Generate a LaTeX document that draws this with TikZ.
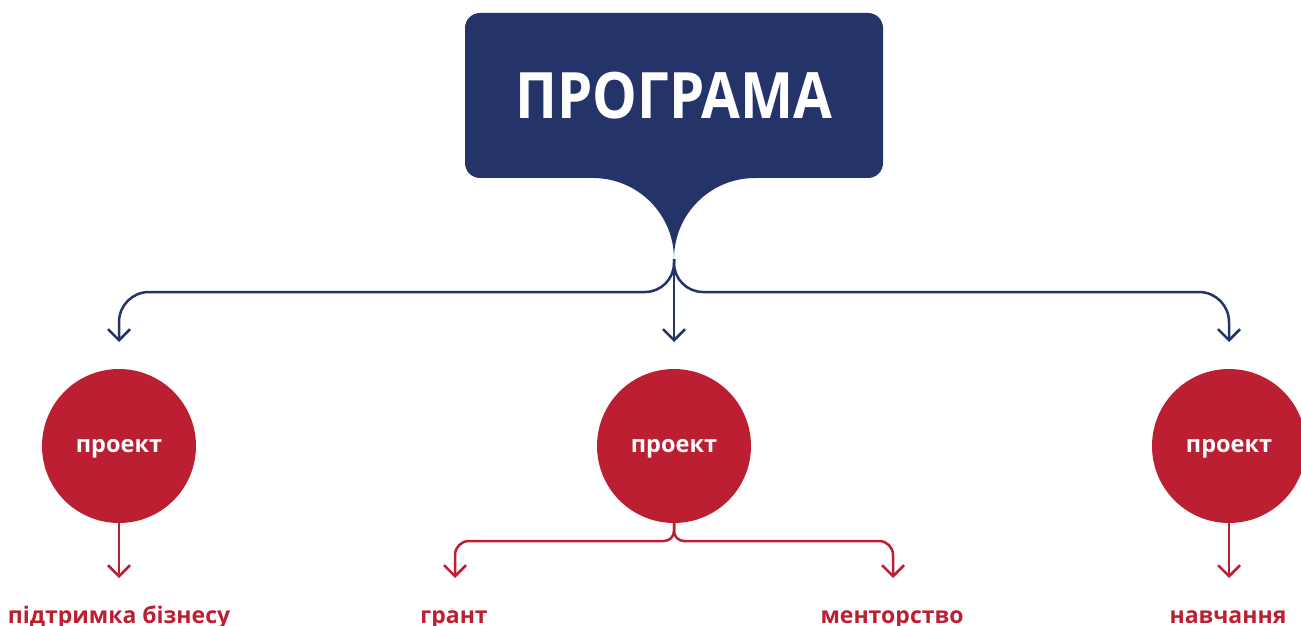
\documentclass[tikz,border=0pt]{standalone}
\usepackage{fontspec}
\setmainfont{Open Sans}
\newfontfamily\titlefont{Open Sans}[FakeStretch=0.88]
\usetikzlibrary{arrows.meta}
\definecolor{navy}{RGB}{36,51,104}
\definecolor{crim}{RGB}{188,31,50}
\begin{document}
\begin{tikzpicture}[x=1pt,y=1pt,
  navline/.style={draw=navy,line width=2.5pt},
  redline/.style={draw=crim,line width=2.5pt},
  tip/.style={-{Straight Barb[length=11pt,width=22pt]}},
  proj/.style={circle,fill=crim,minimum size=154pt,inner sep=0pt,text=white,text height=12.8pt,text depth=0pt,font=\bfseries\fontsize{23.5}{26}\selectfont},
  lab/.style={anchor=base,text=crim,inner sep=0pt,font=\bfseries\fontsize{23}{26}\selectfont}]
\useasboundingbox (0,0) rectangle (1301,625);
% top box with tail
\node (prog) [fill=navy,rounded corners=15pt,minimum width=418pt,minimum height=165pt,inner sep=0pt,
  text=white,font=\titlefont\bfseries\fontsize{64}{70}\selectfont] at (674,529.5) {ПРОГРАМА};
\fill[navy] (590,450) -- (593,447) arc (90:0:81) arc (180:90:81) -- (758,450) -- cycle;
\coordinate (tail) at (674,366);
% circles
\node (c1) [proj] at (119,179) {проект};
\node (c2) [proj] at (674,179) {проект};
\node (c3) [proj] at (1229,179) {проект};
% navy connectors
\coordinate (n1) at (119,283);
\coordinate (n2) at (674,283);
\coordinate (n3) at (1229,283);
\draw[navline,tip] (tail) -- (n2);
\draw[navline,tip] (tail) -- (674,362) arc (0:-90:29) -- (149,333) arc (90:180:30) -- (n1);
\draw[navline,tip] (tail) -- (674,362) arc (180:270:29) -- (1199,333) arc (90:0:30) -- (n3);
% labels
\node (t1) [lab] at (119,2) {підтримка бізнесу};
\node (t2) [lab] at (454,2) {грант};
\node (t3) [lab] at (892,2) {менторство};
\node (t4) [lab] at (1228,2) {навчання};
% red connectors
\coordinate (r1) at (119,47);
\coordinate (r2) at (455,47);
\coordinate (r3) at (893,47);
\coordinate (r4) at (1229,47);
\draw[redline,tip] (c1.south) -- (r1);
\draw[redline,tip] (c3.south) -- (r4);
\draw[redline,tip] (c2.south) -- (674,94) arc (0:-90:10) -- (469,84) arc (90:180:14) -- (r2);
\draw[redline,tip] (c2.south) -- (674,94) arc (180:270:10) -- (879,84) arc (90:0:14) -- (r3);
\end{tikzpicture}
\end{document}
